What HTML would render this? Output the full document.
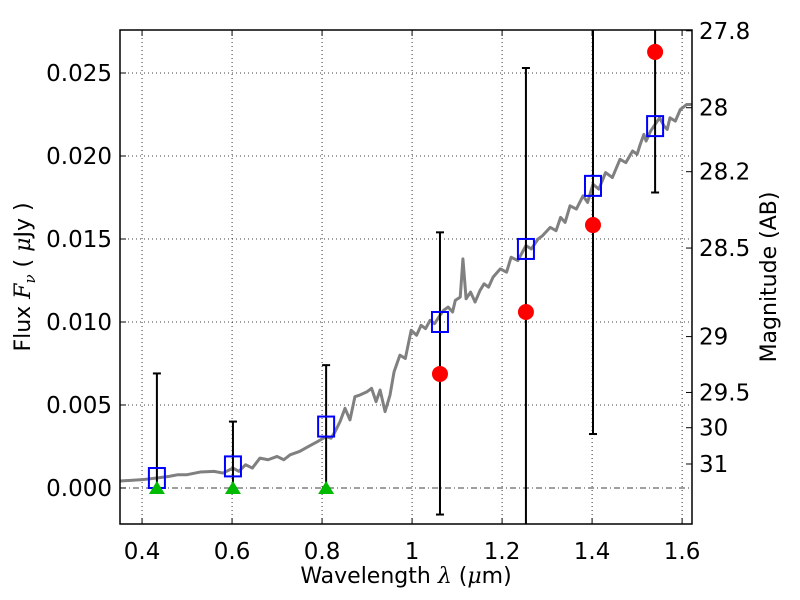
<!DOCTYPE html>
<html><head><meta charset="utf-8"><style>
html,body{margin:0;padding:0;background:#fff;overflow:hidden;width:800px;height:600px;}
#wrap{position:relative;width:800px;height:600px;overflow:hidden;}
svg{font-family:"DejaVu Sans","Liberation Sans",sans-serif;display:block;}
</style></head><body>
<div id="wrap">
<svg id="c" width="800" height="600" style="position:absolute;left:0;top:0"></svg>
<svg width="800" height="600" style="position:absolute;left:0;top:0">
<text x="406" y="583" text-anchor="middle" font-size="22" font-family="DejaVu Sans, sans-serif">Wavelength  <tspan font-style="italic" font-family="DejaVu Serif, serif">λ</tspan> (<tspan font-style="italic" font-family="DejaVu Serif, serif">μ</tspan>m)</text>
<text transform="translate(30,277) rotate(-90)" text-anchor="middle" font-size="22" font-family="DejaVu Sans, sans-serif">Flux  <tspan font-style="italic" font-family="DejaVu Serif, serif">F<tspan font-size="15" dy="5">ν</tspan></tspan><tspan dy="-5">  ( </tspan><tspan font-style="italic" font-family="DejaVu Serif, serif">μ</tspan>Jy )</text>
<text transform="translate(776,277) rotate(-90)" text-anchor="middle" font-size="22" font-family="DejaVu Sans, sans-serif">Magnitude (AB)</text>
</svg>
</div>
<script>
const specX=[0.351,0.40,0.433,0.46,0.48,0.50,0.529,0.56,0.58,0.602,0.615,0.63,0.645,0.662,0.68,0.7,0.715,0.729,0.75,0.77,0.79,0.809,0.82,0.829,0.84,0.851,0.862,0.873,0.884,0.90,0.91,0.92,0.929,0.94,0.951,0.96,0.973,0.985,0.998,1.01,1.02,1.03,1.04,1.05,1.062,1.07,1.08,1.09,1.096,1.107,1.113,1.12,1.13,1.14,1.151,1.16,1.17,1.18,1.196,1.21,1.22,1.235,1.253,1.265,1.28,1.29,1.307,1.32,1.33,1.34,1.351,1.365,1.38,1.39,1.402,1.415,1.43,1.445,1.462,1.475,1.49,1.5,1.507,1.515,1.52,1.53,1.54,1.55,1.56,1.567,1.573,1.585,1.596,1.61,1.622];
const specY=[0.00042,0.0005,0.0006,0.0007,0.0008,0.0008,0.00096,0.0010,0.0009,0.0012,0.0010,0.0014,0.0012,0.0018,0.0017,0.0019,0.0017,0.0020,0.0022,0.0025,0.0028,0.0031,0.0030,0.0034,0.0040,0.0048,0.0041,0.0055,0.0056,0.0058,0.0060,0.0052,0.0059,0.0046,0.0056,0.0070,0.0080,0.0078,0.0095,0.0092,0.0098,0.0096,0.0101,0.0099,0.0104,0.0107,0.0109,0.0106,0.0113,0.0115,0.0138,0.0114,0.0118,0.0112,0.0119,0.0123,0.0121,0.0127,0.0132,0.0130,0.0139,0.0137,0.0146,0.0144,0.0150,0.0152,0.0157,0.0155,0.0163,0.0160,0.0170,0.0168,0.0176,0.0172,0.0183,0.0180,0.0190,0.0187,0.0198,0.0196,0.0203,0.0201,0.0207,0.0213,0.0209,0.0215,0.0219,0.0223,0.0218,0.0216,0.0223,0.0221,0.0228,0.0231,0.0231];
const bandX=[0.433,0.602,0.809,1.062,1.253,1.402,1.540];
const modelY=[0.0006,0.0013,0.0037,0.0100,0.0144,0.0182,0.0218];
const detX=[1.062,1.253,1.402,1.540];
const detY=[0.00687,0.0106,0.01584,0.02627];
const ulX=[0.433,0.602,0.809];
const errLo=[0,0,0,-0.0016,-0.01,0.00325,0.0178];
const errHi=[0.0069,0.0040,0.0074,0.0154,0.0253,0.04,0.04];
const xTicks=[0.4,0.6,0.8,1.0,1.2,1.4,1.6];
const xTickLabels=["0.4","0.6","0.8","1","1.2","1.4","1.6"];
const yTicks=[0,0.005,0.010,0.015,0.020,0.025];
const yTickLabels=["0.000","0.005","0.010","0.015","0.020","0.025"];
const magTicks=[27.8,28,28.2,28.5,29,29.5,30,31];
const magLabels=["27.8","28","28.2","28.5","29","29.5","30","31"];

const L=120,R=692,T=30,B=524,X0=0.351,X1=1.622,Y0=-0.00217,Y1=0.02759;
const sx=v=>L+(v-X0)/(X1-X0)*(R-L);
const sy=v=>B-(v-Y0)/(Y1-Y0)*(B-T);
const NS="http://www.w3.org/2000/svg";
const svg=document.getElementById('c');
function mk(t,a,p){const e=document.createElementNS(NS,t);for(const k in a)e.setAttribute(k,a[k]);(p||svg).appendChild(e);return e;}
const clip=mk('clipPath',{id:'cp'});mk('rect',{x:L,y:T,width:R-L,height:B-T},clip);
const g=mk('g',{'clip-path':'url(#cp)'});
xTicks.forEach(v=>{const e=mk('line',{x1:sx(v),x2:sx(v),y1:T,y2:B,stroke:'#000','stroke-width':0.8,'stroke-dasharray':'1,3'},g);

});
yTicks.forEach(v=>{const e=mk('line',{x1:L,x2:R,y1:sy(v),y2:sy(v),stroke:'#000','stroke-width':0.8,'stroke-dasharray':v===0?'6,3,1,3':'1,3'},g);

});
const sp=mk('polyline',{points:specX.map((x,i)=>sx(x)+','+sy(specY[i])).join(' '),fill:'none',stroke:'#808080','stroke-width':3,'stroke-linejoin':'round'},g);


bandX.forEach((x,i)=>{const eg=mk('g',{stroke:'#000','stroke-width':2},g);


mk('line',{x1:sx(x),x2:sx(x),y1:sy(errLo[i]),y2:sy(errHi[i])},eg);
mk('line',{x1:sx(x)-4,x2:sx(x)+4,y1:sy(errLo[i]),y2:sy(errLo[i])},eg);
mk('line',{x1:sx(x)-4,x2:sx(x)+4,y1:sy(errHi[i]),y2:sy(errHi[i])},eg);});
bandX.forEach((x,i)=>{const e=mk('rect',{x:sx(x)-8,y:sy(modelY[i])-10,width:16,height:20,fill:'none',stroke:'#0000ff','stroke-width':2},g);

});
detX.forEach((x,i)=>{const e=mk('circle',{cx:sx(x),cy:sy(detY[i]),r:8,fill:'#ff0000'},g);

});
ulX.forEach(x=>{const c=sx(x),y=sy(0);const e=mk('polygon',{points:`${c-8},${y+6} ${c+8},${y+6} ${c},${y-7}`,fill:'#00bb00'},g);

});
mk('rect',{x:L,y:T,width:R-L,height:B-T,fill:'none',stroke:'#000','stroke-width':1.5});
xTicks.forEach((v,i)=>{mk('line',{x1:sx(v),x2:sx(v),y1:B,y2:B-6,stroke:'#000'});mk('line',{x1:sx(v),x2:sx(v),y1:T,y2:T+6,stroke:'#000'});
const t=mk('text',{x:sx(v),y:B+35,'text-anchor':'middle','font-size':23});t.textContent=xTickLabels[i];

});
yTicks.forEach((v,i)=>{mk('line',{x1:L,x2:L+6,y1:sy(v),y2:sy(v),stroke:'#000'});
const t=mk('text',{x:L-8,y:sy(v)+8,'text-anchor':'end','font-size':23});t.textContent=yTickLabels[i];

});
magTicks.forEach((m,i)=>{const y=sy(Math.pow(10,(23.9-m)/2.5));mk('line',{x1:R,x2:R-6,y1:y,y2:y,stroke:'#000'});
const t=mk('text',{x:R+7,y:y+8,'font-size':23});t.textContent=magLabels[i];

});
</script>
</body></html>
